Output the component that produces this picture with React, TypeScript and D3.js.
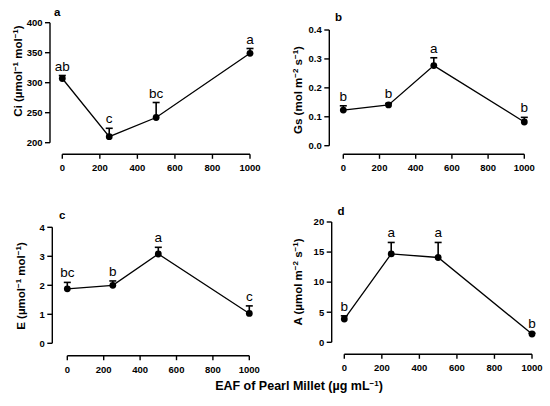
import React from "react";
import * as d3 from "d3";

const doses = [0, 250, 500, 1000];
const xTicks = [0, 200, 400, 600, 800, 1000];

const ciMean = [307, 210, 242, 349];
const ciTop = [312, 224, 267, 357];
const ciLetters = ["ab", "c", "bc", "a"];

const gsMean = [0.123, 0.141, 0.277, 0.082];
const gsTop = [0.138, 0.146, 0.304, 0.098];
const gsLetters = ["b", "b", "a", "b"];

const eMean = [1.88, 2.0, 3.08, 1.03];
const eTop = [2.1, 2.15, 3.31, 1.29];
const eLetters = ["bc", "b", "a", "c"];

const aMean = [3.87, 14.7, 14.1, 1.38];
const aTop = [4.4, 16.6, 16.6, 1.5];
const aLetters = ["b", "a", "a", "b"];

const FONT = "'Liberation Sans', Arial, Helvetica, sans-serif";

type Panel = {
  label: string;
  labelX: number;
  labelY: number;
  yAxisX: number;
  yRange: [number, number];
  yDomain: [number, number];
  yTicks: number[];
  yFmt: (v: number) => string;
  xAxisY: number;
  xRange: [number, number];
  mean: number[];
  top: number[];
  letters: string[];
  title: React.ReactNode;
  titleX: number;
  titleY: number;
};

const sup = (t: string) => (
  <tspan baselineShift="super" fontSize="8">
    {t}
  </tspan>
);

const panels: Panel[] = [
  {
    label: "a",
    labelX: 54,
    labelY: 16,
    yAxisX: 50,
    yRange: [142.7, 22.7],
    yDomain: [200, 400],
    yTicks: [200, 250, 300, 350, 400],
    yFmt: (v) => String(v),
    xAxisY: 154.3,
    xRange: [62.3, 250],
    mean: ciMean,
    top: ciTop,
    letters: ciLetters,
    title: (
      <>
        Ci (µmol{sup("−1")} mol{sup("−1")})
      </>
    ),
    titleX: 17.7,
    titleY: 71,
  },
  {
    label: "b",
    labelX: 335,
    labelY: 21,
    yAxisX: 329.3,
    yRange: [145.7, 30],
    yDomain: [0, 0.4],
    yTicks: [0, 0.1, 0.2, 0.3, 0.4],
    yFmt: (v) => v.toFixed(1),
    xAxisY: 154.3,
    xRange: [343.3, 524.3],
    mean: gsMean,
    top: gsTop,
    letters: gsLetters,
    title: (
      <>
        Gs (mol m{sup("−2")} s{sup("−1")})
      </>
    ),
    titleX: 298.3,
    titleY: 90,
  },
  {
    label: "c",
    labelX: 59,
    labelY: 219,
    yAxisX: 52.3,
    yRange: [343.3, 227.3],
    yDomain: [0, 4],
    yTicks: [0, 1, 2, 3, 4],
    yFmt: (v) => String(v),
    xAxisY: 355.7,
    xRange: [67.3, 249.3],
    mean: eMean,
    top: eTop,
    letters: eLetters,
    title: (
      <>
        E (µmol{sup("−1")} mol{sup("−1")})
      </>
    ),
    titleX: 20.5,
    titleY: 286,
  },
  {
    label: "d",
    labelX: 337.5,
    labelY: 215,
    yAxisX: 331.7,
    yRange: [342.3, 222],
    yDomain: [0, 20],
    yTicks: [0, 5, 10, 15, 20],
    yFmt: (v) => String(v),
    xAxisY: 354.3,
    xRange: [344.3, 532],
    mean: aMean,
    top: aTop,
    letters: aLetters,
    title: (
      <>
        A (µmol m{sup("−2")} s{sup("−1")})
      </>
    ),
    titleX: 297.7,
    titleY: 282,
  },
];

function PanelView({ p }: { p: Panel }) {
  const x = d3.scaleLinear().domain([0, 1000]).range(p.xRange);
  const y = d3.scaleLinear().domain(p.yDomain).range(p.yRange);
  const line = d3
    .line<number>()
    .x((_, i) => x(doses[i]))
    .y((d) => y(d));
  const sw = 1.4;
  return (
    <g>
      <line x1={p.yAxisX} x2={p.yAxisX} y1={p.yRange[0]} y2={p.yRange[1]} stroke="#000" strokeWidth={sw} />
      {p.yTicks.map((t) => (
        <g key={t}>
          <line x1={p.yAxisX - 5} x2={p.yAxisX} y1={y(t)} y2={y(t)} stroke="#000" strokeWidth={sw} />
          <text x={p.yAxisX - 7.5} y={y(t)} dy="0.35em" textAnchor="end" fontSize="9.5" fontWeight="bold">
            {p.yFmt(t)}
          </text>
        </g>
      ))}
      <line x1={p.xRange[0]} x2={p.xRange[1]} y1={p.xAxisY} y2={p.xAxisY} stroke="#000" strokeWidth={sw} />
      {xTicks.map((t) => (
        <g key={t}>
          <line x1={x(t)} x2={x(t)} y1={p.xAxisY} y2={p.xAxisY + 4.5} stroke="#000" strokeWidth={sw} />
          <text x={x(t)} y={p.xAxisY + 17} textAnchor="middle" fontSize="9.5" fontWeight="bold">
            {t}
          </text>
        </g>
      ))}
      {p.mean.map((m, i) => (
        <g key={"e" + i}>
          <line x1={x(doses[i])} x2={x(doses[i])} y1={y(m)} y2={y(p.top[i])} stroke="#000" strokeWidth={1.6} />
          <line
            x1={x(doses[i]) - 3.5}
            x2={x(doses[i]) + 3.5}
            y1={y(p.top[i])}
            y2={y(p.top[i])}
            stroke="#000"
            strokeWidth={1.6}
          />
        </g>
      ))}
      <path d={line(p.mean) || ""} fill="none" stroke="#000" strokeWidth={1.3} />
      {p.mean.map((m, i) => (
        <circle key={"c" + i} cx={x(doses[i])} cy={y(m)} r={3.4} fill="#000" />
      ))}
      {p.letters.map((l, i) => (
        <text key={"l" + i} x={x(doses[i])} y={y(p.top[i]) - 5} textAnchor="middle" fontSize="13.5">
          {l}
        </text>
      ))}
      <text x={p.labelX} y={p.labelY} fontSize="11.5" fontWeight="bold">
        {p.label}
      </text>
      <text
        transform={`translate(${p.titleX},${p.titleY}) rotate(-90)`}
        textAnchor="middle"
        dy="0.35em"
        fontSize="11.5"
        fontWeight="bold"
      >
        {p.title}
      </text>
    </g>
  );
}

export default function App() {
  return (
    <svg
      width={550}
      height={406}
      style={{ position: "absolute", left: 0, top: 0, background: "#fff" }}
      fontFamily={FONT}
    >
      <rect width={550} height={406} fill="#fff" />
      {panels.map((p) => (
        <PanelView key={p.label} p={p} />
      ))}
      <text x={299} y={390} textAnchor="middle" fontSize="12.5" fontWeight="bold">
        EAF of Pearl Millet (µg mL{sup("−1")})
      </text>
    </svg>
  );
}
